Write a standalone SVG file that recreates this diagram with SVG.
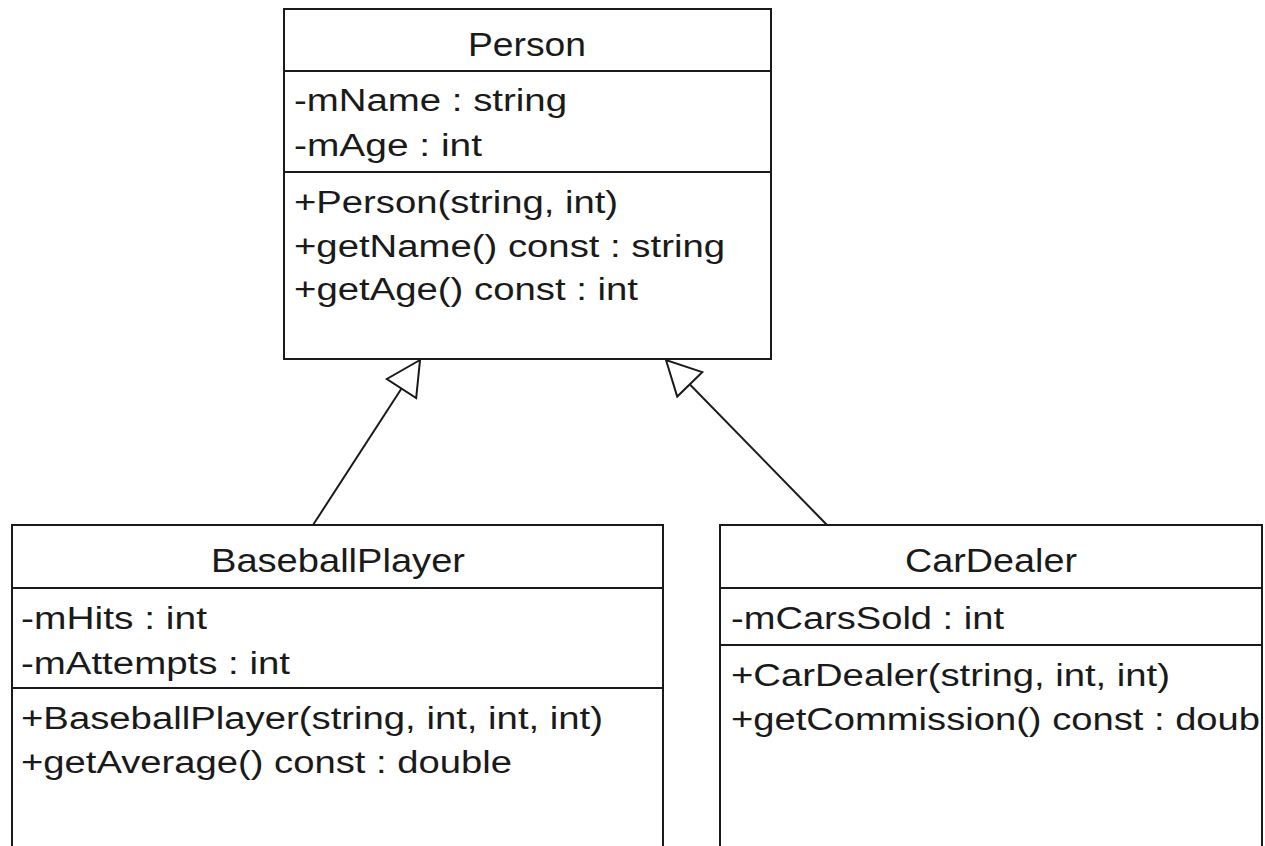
<svg xmlns="http://www.w3.org/2000/svg" width="1265" height="846" viewBox="0 0 1265 846">
  <style>
    .box { fill: #ffffff; stroke: #1a1a1a; stroke-width: 2; }
    .sep { stroke: #1a1a1a; stroke-width: 2; }
    .title { font-family: "Liberation Sans", Arial, sans-serif; font-size: 33px; fill: #1a1a1a; text-anchor: middle; }
    .member { font-family: "Liberation Sans", Arial, sans-serif; font-size: 31px; fill: #1a1a1a; }
    .link { fill: none; stroke: #1a1a1a; stroke-width: 2; }
  </style>
  <defs>
    <!-- hollow triangle for generalization -->
    <marker id="generalization" markerUnits="userSpaceOnUse" markerWidth="40" markerHeight="40"
            viewBox="-37 -20 40 40" refX="0" refY="0" orient="auto" overflow="visible">
      <path d="M0,0 L-34,-17.5 L-34,17.5 Z" fill="#ffffff" stroke="#1a1a1a" stroke-width="2" stroke-linejoin="miter"/>
    </marker>
    <clipPath id="clip-cardealer">
      <rect x="720" y="525" width="541" height="330"/>
    </clipPath>
  </defs>

  <rect width="1265" height="846" fill="#ffffff"/>

  <!-- inheritance links -->
  <g id="connectors">
    <line class="link" x1="313" y1="525" x2="420" y2="360" marker-end="url(#generalization)"/>
    <line class="link" x1="827" y1="525" x2="666" y2="360" marker-end="url(#generalization)"/>
  </g>

  <!-- base class -->
  <g id="person">
    <rect class="box" x="284" y="9" width="487" height="350"/>
    <line class="sep" x1="284" y1="71" x2="771" y2="71"/>
    <line class="sep" x1="284" y1="172" x2="771" y2="172"/>
    <text class="title" x="527" y="56" textLength="118" lengthAdjust="spacingAndGlyphs">Person</text>
    <text class="member" x="294" y="111" textLength="273" lengthAdjust="spacingAndGlyphs">-mName : string</text>
    <text class="member" x="294" y="156" textLength="188" lengthAdjust="spacingAndGlyphs">-mAge : int</text>
    <text class="member" x="294" y="213" textLength="324" lengthAdjust="spacingAndGlyphs">+Person(string, int)</text>
    <text class="member" x="294" y="257" textLength="431" lengthAdjust="spacingAndGlyphs">+getName() const : string</text>
    <text class="member" x="294" y="300" textLength="344" lengthAdjust="spacingAndGlyphs">+getAge() const : int</text>
  </g>

  <!-- derived class: BaseballPlayer -->
  <g id="baseballplayer">
    <rect class="box" x="12" y="525" width="651" height="330"/>
    <line class="sep" x1="12" y1="588" x2="663" y2="588"/>
    <line class="sep" x1="12" y1="688" x2="663" y2="688"/>
    <text class="title" x="338" y="572" textLength="254" lengthAdjust="spacingAndGlyphs">BaseballPlayer</text>
    <text class="member" x="21" y="629" textLength="186" lengthAdjust="spacingAndGlyphs">-mHits : int</text>
    <text class="member" x="21" y="674" textLength="269" lengthAdjust="spacingAndGlyphs">-mAttempts : int</text>
    <text class="member" x="21" y="729" textLength="582" lengthAdjust="spacingAndGlyphs">+BaseballPlayer(string, int, int, int)</text>
    <text class="member" x="21" y="773" textLength="491" lengthAdjust="spacingAndGlyphs">+getAverage() const : double</text>
  </g>

  <!-- derived class: CarDealer -->
  <g id="cardealer">
    <rect class="box" x="720" y="525" width="542" height="330"/>
    <line class="sep" x1="720" y1="588" x2="1262" y2="588"/>
    <line class="sep" x1="720" y1="645" x2="1262" y2="645"/>
    <text class="title" x="991" y="572" textLength="172" lengthAdjust="spacingAndGlyphs">CarDealer</text>
    <text class="member" x="731" y="629" textLength="273" lengthAdjust="spacingAndGlyphs">-mCarsSold : int</text>
    <text class="member" x="731" y="686" textLength="439" lengthAdjust="spacingAndGlyphs">+CarDealer(string, int, int)</text>
    <text class="member" x="731" y="730" textLength="529" lengthAdjust="spacingAndGlyphs" clip-path="url(#clip-cardealer)">+getCommission() const : doub</text>
  </g>
</svg>
